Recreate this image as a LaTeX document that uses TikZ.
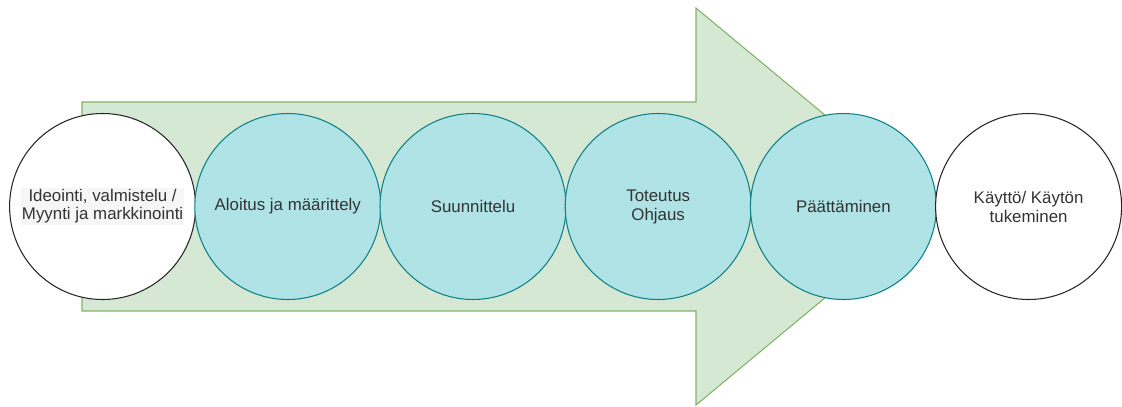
\documentclass[tikz,border=0pt]{standalone}
\usepackage{fontspec}
\setmainfont{Liberation Sans}
\usepackage{xcolor}
\usetikzlibrary{positioning}
\definecolor{arrowfill}{HTML}{D5E8D4}
\definecolor{arrowline}{HTML}{82B366}
\definecolor{phasefill}{HTML}{B0E3E6}
\definecolor{phaseline}{HTML}{0E8088}
\definecolor{txt}{HTML}{333333}
\definecolor{hilite}{HTML}{F6F6F6}
\newcommand{\hlbox}[1]{{\setlength{\fboxsep}{0.5pt}\colorbox{hilite}{\renewcommand{\arraystretch}{0.95}\begin{tabular}{@{}c@{}}#1\end{tabular}}}}

\begin{document}
\begin{tikzpicture}[x=1cm,y=1cm,
  ph/.style={circle,draw=phaseline,fill=phasefill,line width=0.75pt,minimum size=4.65cm,inner sep=0pt,
    font=\fontsize{12}{13.5}\selectfont,text=txt,align=center},
  ext/.style={ph,draw=black!85,fill=white},
  bigarrow/.style={draw=arrowline,fill=arrowfill,line width=0.75pt,line join=miter}]
\useasboundingbox (0,0) rectangle (28.05,-10.15);
% background arrow
\draw[bigarrow] (2.05,-2.55) -- (17.4,-2.55) -- (17.4,-0.2) -- (23.375,-5.1625)
  -- (17.4,-10.125) -- (17.4,-7.775) -- (2.05,-7.775) -- cycle;
% phases
\node[ext] (idea) at (2.565,-5.1625)  {\hlbox{Ideointi, valmistelu /\\Myynti ja markkinointi}};
\node[ph]  (alku) at (7.195,-5.1625)  {Aloitus ja määrittely};
\node[ph]  (suun) at (11.825,-5.1625) {Suunnittelu};
\node[ph]  (tot)  at (16.455,-5.1625) {Toteutus\\Ohjaus};
\node[ph]  (paat) at (21.085,-5.1625) {Päättäminen};
\node[ext] (kaytto) at (25.715,-5.1625) {Käyttö/ Käytön\\tukeminen};
\end{tikzpicture}
\end{document}
